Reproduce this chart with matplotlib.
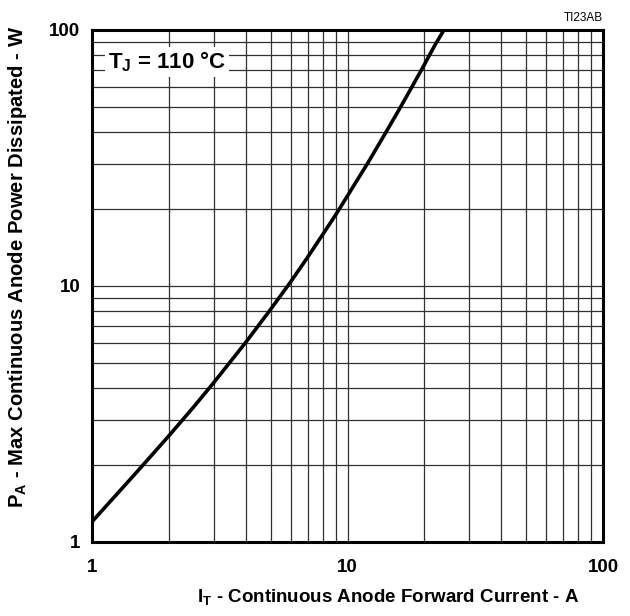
import numpy as np
import matplotlib.pyplot as plt

plt.rcParams['font.family'] = ['Liberation Sans', 'DejaVu Sans']
plt.rcParams['mathtext.fontset'] = 'custom'
plt.rcParams['mathtext.rm'] = 'Liberation Sans'
plt.rcParams['mathtext.bf'] = 'Liberation Sans:bold'

# values
current = [1, 1.5, 2, 2.5, 3, 4, 5, 6, 7, 8, 9, 10, 12, 14, 16, 18, 20, 22, 24]
power = [1.2, 1.88, 2.6, 3.37, 4.2, 6.03, 8.1, 10.4, 13.0, 15.9, 19.0, 22.5,
         30.2, 39.2, 49.3, 60.7, 73.3, 87.4, 101]
x_ticks = [1, 10, 100]
y_ticks = [1, 10, 100]

fig = plt.figure(figsize=(6.3, 6.16), dpi=100)
ax = fig.add_axes([92 / 630, 74 / 616, 511 / 630, 512 / 616])

ax.set_xscale('log')
ax.set_yscale('log')
ax.set_xlim(1, 100)
ax.set_ylim(1, 100)

ax.grid(True, which='both', color='#303030', linewidth=0.9)
ax.set_axisbelow(True)

ax.plot(current, power, color='black', linewidth=2.6, zorder=3)

ax.set_xticks(x_ticks)
ax.set_xticklabels([str(t) for t in x_ticks], fontweight='bold', fontsize=13.5)
ax.set_yticks(y_ticks)
ax.set_yticklabels([str(t) for t in y_ticks], fontweight='bold', fontsize=13.5)
ax.xaxis.set_minor_formatter(plt.NullFormatter())
ax.yaxis.set_minor_formatter(plt.NullFormatter())
ax.tick_params(which='both', length=0)
ax.tick_params(axis='x', pad=12)
ax.tick_params(axis='y', pad=8.5)

for s in ax.spines.values():
    s.set_linewidth(2.2)
    s.set_zorder(4)

ax.set_xlabel(r'$\mathbf{I_T}$ - Continuous Anode Forward Current - A',
              fontweight='bold', fontsize=13.5, va='center')
ax.xaxis.set_label_coords((388 - 92) / 511, -(597 - 542) / 512)
ax.set_ylabel(r'$\mathbf{P_A}$ - Max Continuous Anode Power Dissipated - W',
              fontweight='bold', fontsize=14.6, va='center')
ax.yaxis.set_label_coords(-(92 - 18) / 511, (542 - 267) / 512)

ax.text((108 - 92) / 511, (542 - 62) / 512, r'$\mathbf{T_J}$ = 110 °C',
        transform=ax.transAxes, fontweight='bold', fontsize=16,
        va='center', ha='left', zorder=5,
        bbox=dict(facecolor='white', edgecolor='none', pad=2))

fig.text(603 / 630, 1 - 18 / 616, 'TI23AB', ha='right', va='center', fontsize=8.5)

plt.savefig('out.png', dpi=100)
